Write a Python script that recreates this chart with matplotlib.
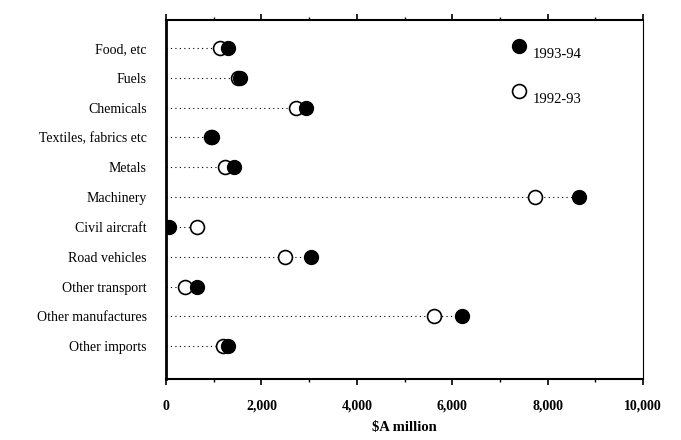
import matplotlib
matplotlib.use("Agg")
import matplotlib.pyplot as plt
from matplotlib.ticker import MultipleLocator, FuncFormatter

categories = ["Food, etc", "Fuels", "Chemicals", "Textiles, fabrics etc", "Metals",
              "Machinery", "Civil aircraft", "Road vehicles", "Other transport",
              "Other manufactures", "Other imports"]
v_1992_93 = [1130, 1500, 2725, 950, 1240, 7740, 650, 2495, 400, 5620, 1195]
v_1993_94 = [1300, 1550, 2935, 965, 1425, 8660, 60, 3040, 650, 6205, 1300]

plt.rcParams['font.family'] = ['Liberation Serif', 'DejaVu Serif']

fig = plt.figure(figsize=(6.81, 4.40), dpi=100)
ax = fig.add_axes([166/681, 1-379/440, (643-166)/681, (379-20)/440])

ys = list(range(len(categories)))
for y, a, b in zip(ys, v_1992_93, v_1993_94):
    ax.plot([0, max(a, b)], [y, y], color='black', lw=0.8, linestyle=(0, (1, 3)), zorder=1)
ax.plot(v_1992_93, ys, 'o', ms=10, mfc='white', mec='black', mew=1.2, linestyle='none', zorder=2)
ax.plot(v_1993_94, ys, 'o', ms=10, mfc='black', mec='black', linestyle='none', zorder=3)

# legend drawn in data space
ax.plot([7400], [-0.07], 'o', ms=10, mfc='black', mec='black', clip_on=False)
ax.plot([7400], [1.44], 'o', ms=10, mfc='white', mec='black', mew=1.2, clip_on=False)
ax.text(7690, 0.23, "1993-94", fontsize=10.5, va='center', ha='left')
ax.text(7690, 1.73, "1992-93", fontsize=10.5, va='center', ha='left')

ax.set_xlim(0, 10000)
ax.set_ylim(11.1, -0.94)
ax.set_yticks(ys)
ax.set_yticklabels(categories, fontsize=10)
ax.tick_params(axis='y', length=0, pad=14)
ax.xaxis.set_major_locator(MultipleLocator(2000))
ax.xaxis.set_minor_locator(MultipleLocator(1000))
ax.xaxis.set_major_formatter(FuncFormatter(lambda v, p: f"{int(v):,}"))
ax.tick_params(axis='x', which='both', direction='out', top=True, labelsize=10, pad=11)
ax.tick_params(axis='x', which='major', length=4, width=1.2)
ax.tick_params(axis='x', which='minor', length=2, width=1)
for t in ax.get_xticklabels():
    t.set_fontweight('bold')
ax.spines['left'].set_linewidth(2.0)
ax.spines['bottom'].set_linewidth(1.5)
ax.spines['top'].set_linewidth(1.5)
ax.spines['right'].set_linewidth(0.8)
ax.set_xlabel(r"\$A million", fontsize=10.5, fontweight='bold', labelpad=6)

fig.savefig("out.png", dpi=100)
